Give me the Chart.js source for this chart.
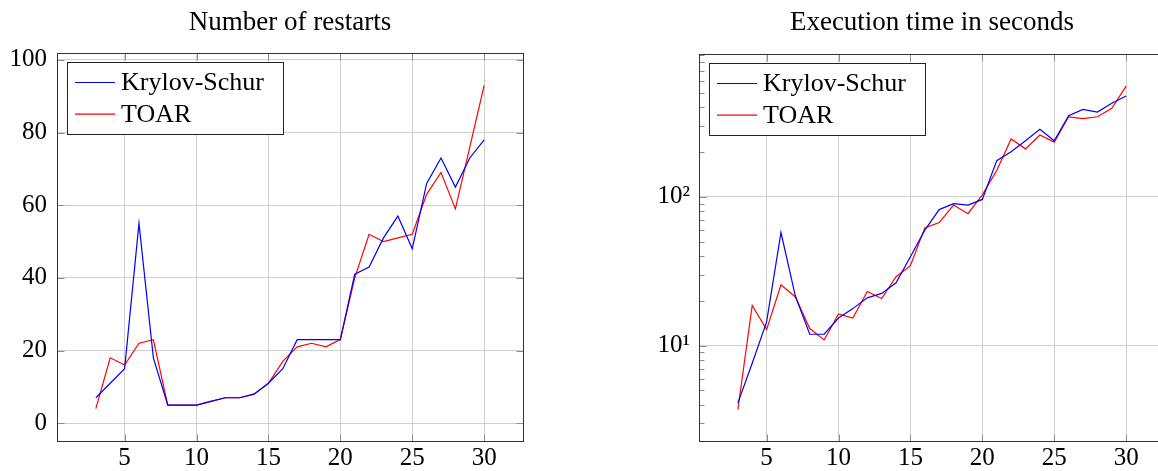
<!DOCTYPE html>
<html>
<head>
<meta charset="utf-8">
<script src="https://cdn.jsdelivr.net/npm/chart.js@4.4.0/dist/chart.umd.min.js"></script>
<style>
html, body { margin: 0; padding: 0; background: #fff; overflow: hidden; }
#wrap { position: relative; width: 1158px; height: 471px; overflow: hidden; }
canvas { position: absolute; top: 0; }
</style>
</head>
<body>
<div id="wrap">
  <canvas id="restarts" width="530" height="471" style="left:0px"></canvas>
  <canvas id="time" width="585" height="471" style="left:590px"></canvas>
</div>
<script>
// problem sizes (x axis)
const sizes = [3, 4, 5, 6, 7, 8, 9, 10, 11, 12, 13, 14, 15, 16, 17, 18, 19, 20, 21, 22, 23, 24, 25, 26, 27, 28, 29, 30];

// number of restarts
const restartsKS   = [7, 11, 15, 55, 18, 5, 5, 5, 6, 7, 7, 8, 11, 15, 23, 23, 23, 23, 41, 43, 51, 57, 48, 66, 73, 65, 73, 78];
const restartsTOAR = [4, 18, 16, 22, 23, 5, 5, 5, 6, 7, 7, 8, 11, 17, 21, 22, 21, 23, 40, 52, 50, 51, 52, 63, 69, 59, 76, 93];

// execution time in seconds
const timeKS   = [4.1, 7.6, 14.4, 57.5, 21.5, 11.9, 11.9, 15.3, 17.7, 20.9, 22.4, 26.4, 39.5, 59.7, 82, 90, 88, 96, 175, 201, 238, 284, 238, 351, 387, 371, 425, 476];
const timeTOAR = [3.7, 18.6, 12.8, 25.6, 21.2, 13.0, 10.9, 16.3, 15.3, 23.1, 20.7, 29.0, 34.4, 61.8, 67.1, 88, 77, 103, 150, 245, 210, 260, 233, 345, 335, 345, 393, 555];

// tick labels
const xTicks = [5, 10, 15, 20, 25, 30];
const restartTicks = [0, 20, 40, 60, 80, 100];
const timeTicks = [10, 100];
const timeTickLabels = ['10\u00B9', '10\u00B2'];
const timeMinor = [3, 4, 5, 6, 7, 8, 9, 20, 30, 40, 50, 60, 70, 80, 90, 200, 300, 400, 500, 600, 700, 800, 900];

const serif = '"Liberation Serif", "Times New Roman", serif';
const tickFont = { family: serif, size: 25 };
const gridColor = '#cfcfcf';

function pts(ys) {
  return sizes.map((s, i) => ({ x: s, y: ys[i] }));
}

// inward tick marks on all four sides plus the box frame, like pgfplots
const framePlugin = {
  id: 'frame',
  afterDatasetsDraw(chart, args, opts) {
    const { ctx, chartArea: a, scales } = chart;
    const L = Math.round(a.left) + 0.5, R = Math.round(a.right) + 0.5;
    const T = Math.round(a.top) + 0.5, B = Math.round(a.bottom) + 0.5;
    ctx.save();
    ctx.strokeStyle = '#8c8c8c';
    ctx.lineWidth = 1;
    ctx.beginPath();
    scales.x.ticks.forEach(t => {
      const px = Math.round(scales.x.getPixelForValue(t.value)) + 0.5;
      ctx.moveTo(px, B); ctx.lineTo(px, B - 7);
      ctx.moveTo(px, T); ctx.lineTo(px, T + 7);
    });
    scales.y.ticks.forEach(t => {
      const py = Math.round(scales.y.getPixelForValue(t.value)) + 0.5;
      ctx.moveTo(L, py); ctx.lineTo(L + 7, py);
      ctx.moveTo(R, py); ctx.lineTo(R - 7, py);
    });
    (opts.minor || []).forEach(v => {
      const py = Math.round(scales.y.getPixelForValue(v)) + 0.5;
      ctx.moveTo(L, py); ctx.lineTo(L + 5, py);
      ctx.moveTo(R, py); ctx.lineTo(R - 5, py);
    });
    ctx.stroke();
    ctx.strokeStyle = '#333';
    ctx.strokeRect(L, T, R - L, B - T);
    ctx.restore();
  }
};

// boxed legend in the upper left corner of the plot
const boxLegend = {
  id: 'boxLegend',
  afterDraw(chart) {
    const { ctx, chartArea: a } = chart;
    const x0 = Math.round(a.left) + 10, y0 = Math.round(a.top) + 9;
    ctx.save();
    ctx.fillStyle = '#fff';
    ctx.fillRect(x0, y0, 216, 72);
    ctx.strokeStyle = '#222';
    ctx.lineWidth = 1;
    ctx.strokeRect(x0 + 0.5, y0 + 0.5, 216, 72);
    chart.data.datasets.forEach((ds, i) => {
      const yc = y0 + 20.5 + i * 31.7;
      ctx.strokeStyle = ds.borderColor;
      ctx.lineWidth = 1.2;
      ctx.beginPath();
      ctx.moveTo(x0 + 8, yc);
      ctx.lineTo(x0 + 48, yc);
      ctx.stroke();
      ctx.fillStyle = '#000';
      ctx.font = '26px ' + serif;
      ctx.textBaseline = 'alphabetic';
      ctx.fillText(ds.label, x0 + 54, yc + 7.5);
    });
    ctx.restore();
  }
};

function lineSet(label, color, data) {
  return {
    label: label,
    data: data,
    borderColor: color,
    backgroundColor: color,
    borderWidth: 1.2,
    pointRadius: 0,
    tension: 0,
    fill: false
  };
}

function baseX() {
  return {
    type: 'linear',
    min: 0.3,
    max: 32.7,
    afterBuildTicks: s => { s.ticks = xTicks.map(v => ({ value: v })); },
    afterFit: s => { s.height = 30; },
    grid: { color: gridColor, drawTicks: false },
    border: { display: false },
    ticks: { color: '#000', font: tickFont, padding: 2, maxRotation: 0, autoSkip: false }
  };
}

new Chart(document.getElementById('restarts').getContext('2d'), {
  type: 'line',
  data: {
    datasets: [
      lineSet('Krylov-Schur', '#0000ff', pts(restartsKS)),
      lineSet('TOAR', '#ff0000', pts(restartsTOAR))
    ]
  },
  options: {
    responsive: false,
    animation: false,
    layout: { padding: { left: 0, right: 7, top: 0, bottom: 0 } },
    plugins: {
      legend: { display: false },
      tooltip: { enabled: false },
      title: {
        display: true,
        text: 'Number of restarts',
        fullSize: false,
        color: '#000',
        font: { family: serif, size: 27, weight: 'normal' },
        padding: { top: 7, bottom: 13.6 }
      }
    },
    scales: {
      x: baseX(),
      y: {
        type: 'linear',
        min: -4.9,
        max: 101.9,
        afterBuildTicks: s => { s.ticks = restartTicks.map(v => ({ value: v })); },
        afterFit: s => { s.width = 57; },
        grid: { color: gridColor, drawTicks: false },
        border: { display: false },
        ticks: { color: '#000', font: tickFont, padding: 10, autoSkip: false }
      }
    }
  },
  plugins: [framePlugin, boxLegend]
});

new Chart(document.getElementById('time').getContext('2d'), {
  type: 'line',
  data: {
    datasets: [
      lineSet('Krylov-Schur', '#0000ff', pts(timeKS)),
      lineSet('TOAR', '#ff0000', pts(timeTOAR))
    ]
  },
  options: {
    responsive: false,
    animation: false,
    // plot frame runs past the right edge of the window, as in the original
    layout: { padding: { left: 0, right: 10, top: 0, bottom: 0 } },
    plugins: {
      legend: { display: false },
      tooltip: { enabled: false },
      frame: { minor: timeMinor },
      title: {
        display: true,
        text: 'Execution time in seconds',
        fullSize: false,
        color: '#000',
        font: { family: serif, size: 27, weight: 'normal' },
        padding: { top: 7, bottom: 14.6 }
      }
    },
    scales: {
      x: baseX(),
      y: {
        type: 'logarithmic',
        min: 2.28,
        max: 912,
        afterBuildTicks: s => { s.ticks = timeTicks.map(v => ({ value: v })); },
        afterFit: s => { s.width = 109; },
        grid: { color: gridColor, drawTicks: false },
        border: { display: false },
        ticks: {
          color: '#000',
          font: tickFont,
          padding: 9,
          autoSkip: false,
          callback: (v, i) => timeTickLabels[i]
        }
      }
    }
  },
  plugins: [framePlugin, boxLegend]
});
</script>
</body>
</html>
